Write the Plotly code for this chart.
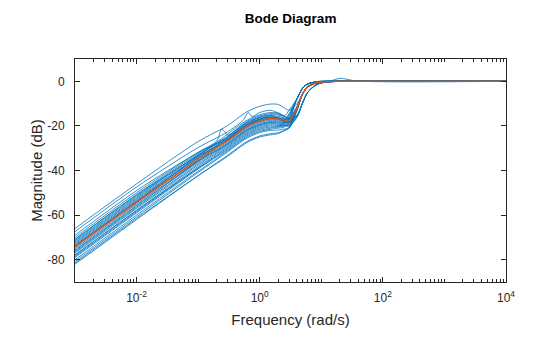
import plotly.graph_objects as go

# shared frequency grid (rad/s)
W = [0.001, 0.01, 0.1, 0.3, 0.6, 1, 1.5, 2, 2.5, 3, 4, 5, 6, 8, 10, 15, 20, 40, 10000]

# nominal response (dB)
nominal = [-74.2, -54.3, -35.0, -26.5, -20.5, -17.8, -16.8, -16.9, -17.5, -17.8,
           -12.0, -5.5, -2.5, -0.8, -0.3, -0.05, 0, 0, 0]

# sampled (uncertain) responses on grid W (dB)
s01 = [-66.0, -46.0, -27.0, -19.9, -13.9, -11.2, -10.2, -10.4, -11.9, -13.0, -10.1, -5.5, -2.5, -0.8, -0.3, -0.05, 0, 0, 0]
s04 = [-70.8, -50.8, -32.4, -24.7, -18.7, -16.0, -15.0, -15.1, -15.8, -16.8, -15.3, -9.5, -5.0, -1.8, -0.7, -0.15, -0.05, 0, 0]
s05 = [-71.5, -51.5, -33.0, -25.2, -19.2, -16.5, -15.5, -15.7, -16.4, -17.0, -11.7, -5.5, -2.5, -0.8, -0.3, -0.05, 0, 0, 0]
s06 = [-72.0, -52.0, -33.1, -24.9, -18.9, -16.2, -15.2, -16.6, -18.0, -15.5, -8.0, -3.0, -1.2, -0.3, -0.1, 0, 0, 0, 0]
s07 = [-72.5, -52.5, -33.8, -25.7, -19.7, -17.0, -16.0, -16.2, -16.9, -17.5, -11.9, -5.5, -2.5, -0.8, -0.3, -0.05, 0, 0, 0]
s08 = [-73.0, -53.0, -34.3, -26.2, -20.2, -17.5, -16.5, -16.6, -17.3, -18.3, -15.7, -9.5, -5.0, -1.8, -0.7, -0.15, -0.05, 0, 0]
s09 = [-73.5, -53.5, -34.3, -25.7, -19.7, -17.0, -16.0, -16.5, -17.0, -14.5, -8.0, -3.0, -1.2, -0.3, 0.2, 0.4, 1.3, 0.1, 0]
s10 = [-75.0, -55.0, -35.8, -27.2, -21.2, -18.5, -17.5, -17.7, -18.1, -18.5, -12.3, -5.5, -2.5, -0.8, -0.3, -0.05, 0, 0, 0]
s11 = [-75.6, -55.6, -36.3, -27.7, -21.7, -19.0, -18.0, -18.1, -18.4, -18.8, -15.9, -9.5, -5.0, -1.8, -0.7, -0.15, -0.05, 0, 0]
s12 = [-76.5, -56.5, -37.0, -28.2, -22.2, -19.5, -18.5, -18.7, -18.5, -18.5, -12.3, -5.5, -2.5, -0.8, -0.3, -0.05, 0, 0, 0]
s13 = [-77.0, -57.0, -37.5, -28.7, -22.7, -20.0, -19.0, -19.2, -19.5, -17.0, -8.0, -3.0, -1.2, -0.3, -0.1, 0, 0, 0, 0]
s14 = [-77.8, -57.8, -38.2, -29.2, -23.2, -20.5, -19.5, -19.7, -19.8, -20.0, -12.9, -5.5, -2.5, -0.8, -0.3, -0.05, 0, 0, 0]
s15 = [-78.5, -58.5, -38.8, -29.7, -23.7, -21.0, -20.0, -20.1, -20.0, -19.8, -16.2, -9.5, -5.0, -1.8, -0.7, -0.15, -0.05, 0, 0]
s16 = [-79.0, -59.0, -39.3, -30.2, -24.2, -21.5, -20.5, -20.6, -19.9, -19.5, -12.7, -5.5, -2.5, -0.8, -0.3, -0.05, 0, 0, 0]
s17 = [-80.0, -60.0, -40.3, -31.2, -25.2, -22.5, -21.5, -21.0, -20.5, -18.0, -8.0, -3.0, -1.2, -0.3, -0.1, 0, 0, 0, 0]
s18 = [-80.8, -60.8, -40.9, -31.7, -25.7, -23.0, -22.0, -21.9, -21.4, -21.0, -13.3, -5.5, -2.5, -0.8, -0.3, -0.05, 0, 0, 0]
s19 = [-82.0, -62.0, -42.3, -33.2, -27.2, -24.5, -23.5, -23.0, -22.0, -20.5, -16.3, -9.5, -5.0, -1.8, -0.7, -0.15, -0.05, 0, 0]
s20 = [-74.0, -54.0, -33.5, -23.7, -17.7, -15.0, -14.0, -14.2, -15.5, -16.5, -11.5, -5.5, -2.5, -0.8, -0.3, -0.05, 0, 0, 0]
s21 = [-71.0, -51.0, -33.5, -26.7, -20.7, -18.0, -17.0, -17.2, -17.9, -18.5, -12.3, -5.5, -2.5, -0.8, -0.3, -0.05, 0, 0, 0]
s22 = [-76.0, -56.0, -35.8, -26.2, -20.2, -17.5, -16.5, -16.6, -16.9, -17.3, -15.4, -9.5, -5.0, -1.8, -0.7, -0.15, -0.05, 0, 0]
s23 = [-78.0, -58.0, -39.0, -30.7, -24.7, -22.0, -21.0, -20.0, -19.0, -16.5, -8.0, -3.0, -1.2, -0.3, -0.1, 0, 0, 0, 0]
s24 = [-73.8, -53.8, -35.7, -28.2, -22.2, -19.5, -18.5, -18.7, -19.1, -19.5, -12.7, -5.5, -2.5, -0.8, -0.3, -0.05, 0, 0, 0]
s25 = [-81.5, -61.5, -42.3, -33.7, -27.7, -25.0, -24.0, -23.5, -22.2, -21.0, -13.3, -5.5, -2.5, -0.8, -0.3, -0.05, 0, 0, 0]
s26 = [-69.0, -49.0, -32.0, -25.7, -19.7, -17.0, -16.0, -16.8, -17.5, -15.0, -8.0, -3.0, -1.2, -0.3, -0.1, 0, 0, 0, 0]

# samples with a lightly damped resonance (own frequency grids)
W02 = [0.001, 0.01, 0.1, 0.3, 0.55, 0.65, 0.75, 1, 1.5, 2, 2.5, 3, 4, 5, 6, 8, 10, 15, 20, 40, 10000]
s02 = [-67.4, -47.4, -29.7, -22.7, -17.2, -14.0, -15.8, -14.0, -13.0, -14.2, -15.5, -13.0, -8.0, -3.0, -1.2, -0.3, -0.1, 0, 0, 0, 0]
W03 = [0.001, 0.01, 0.1, 0.2, 0.24, 0.27, 0.3, 0.6, 1, 1.5, 2, 2.5, 3, 4, 5, 6, 8, 10, 15, 20, 40, 10000]
s03 = [-70.0, -50.0, -31.8, -26.8, -21.5, -22.5, -24.2, -18.2, -15.5, -14.5, -14.7, -15.7, -16.5, -11.5, -5.5, -2.5, -0.8, -0.3, -0.05, 0, 0, 0]

samples = [(W, s01), (W02, s02), (W03, s03), (W, s04), (W, s05), (W, s06), (W, s07),
           (W, s08), (W, s09), (W, s10), (W, s11), (W, s12), (W, s13), (W, s14),
           (W, s15), (W, s16), (W, s17), (W, s18), (W, s19), (W, s20), (W, s21),
           (W, s22), (W, s23), (W, s24), (W, s25), (W, s26)]

x_tickvals = [1e-2, 1e0, 1e2, 1e4]
x_ticktext = ["10<sup>-2</sup>", "10<sup>0</sup>", "10<sup>2</sup>", "10<sup>4</sup>"]
y_tickvals = [-80, -60, -40, -20, 0]
y_ticktext = ["-80", "-60", "-40", "-20", "0"]

BLUE = "#0072BD"
ORANGE = "#D95319"
AX = "#262626"

fig = go.Figure()
for wx, mag in samples:
    fig.add_trace(go.Scatter(x=wx, y=mag, mode="lines",
                             line=dict(color=BLUE, width=0.8, shape="spline", smoothing=0.8),
                             showlegend=False, hoverinfo="skip"))
fig.add_trace(go.Scatter(x=W, y=nominal, mode="lines",
                         line=dict(color=ORANGE, width=1.5, shape="spline", smoothing=0.8),
                         showlegend=False))

minor_vals = [m * 10 ** e for e in range(-3, 4) for m in range(2, 10)] + [1e-3, 1e-1, 1e1, 1e3]

fig.update_layout(
    width=560, height=337,
    margin=dict(l=75, r=54, t=59, b=55),
    paper_bgcolor="white", plot_bgcolor="white",
    font=dict(family="Liberation Sans, Arial, sans-serif", color=AX, size=12),
    title=dict(text="<b>Bode Diagram</b>", x=0.519, xanchor="center", y=0.945, yanchor="middle",
               font=dict(size=13.5, color="#000000")),
    xaxis=dict(type="log", range=[-3, 4], tickvals=x_tickvals, ticktext=x_ticktext,
               ticks="inside", ticklen=5, tickcolor=AX, showline=True, linecolor=AX, linewidth=1,
               mirror="ticks", showgrid=False, zeroline=False, ticklabelstandoff=5,
               minor=dict(tickvals=minor_vals, ticks="inside", ticklen=3, tickcolor=AX, showgrid=False),
               title=dict(text="Frequency (rad/s)", font=dict(size=15, color=AX), standoff=10),
               tickfont=dict(size=12, color=AX)),
    yaxis=dict(range=[-90, 10], tickvals=y_tickvals, ticktext=y_ticktext,
               ticks="inside", ticklen=5, tickcolor=AX, showline=True, linecolor=AX, linewidth=1,
               mirror="ticks", showgrid=False, zeroline=False, ticklabelstandoff=7,
               title=dict(text="Magnitude (dB)", font=dict(size=15, color=AX), standoff=1),
               tickfont=dict(size=12, color=AX)),
)

fig.write_html("out.html")
